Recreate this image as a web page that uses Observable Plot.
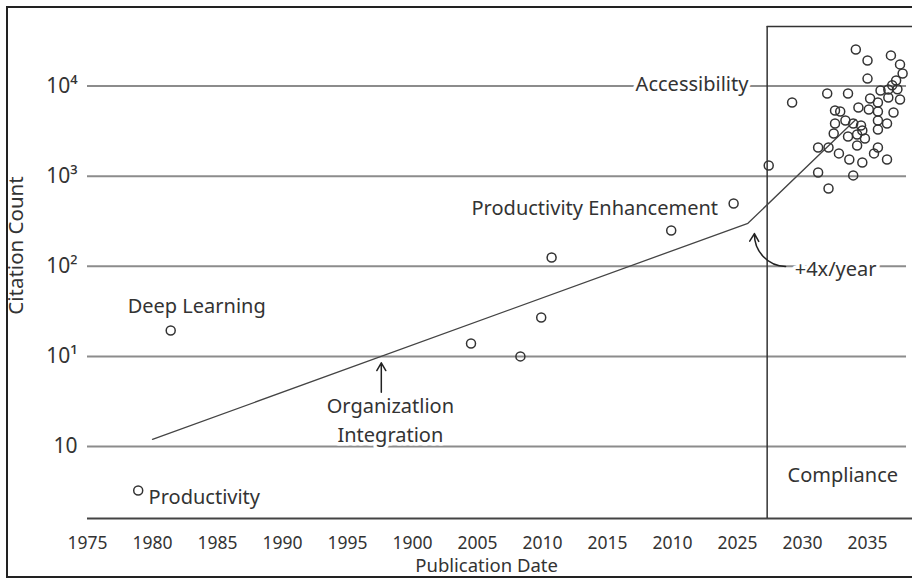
<!DOCTYPE html>
<html>
<head>
<meta charset="utf-8">
<script src="https://cdn.jsdelivr.net/npm/d3@7"></script>
<script src="https://cdn.jsdelivr.net/npm/@observablehq/plot@0.6"></script>
<style>
  html, body { margin: 0; padding: 0; background: #fff; overflow: hidden; }
  #frame { position: absolute; left: 6px; top: 6px; width: 1000px; height: 572px; box-sizing: border-box; border: 2px solid #222; }
  #chart { position: absolute; left: 0; top: 0; }
</style>
</head>
<body>
<div id="frame"></div>
<div id="chart"></div>
<script>
// ---- data ----
const xTickValues = [1975, 1980, 1985, 1990, 1995, 2000, 2005, 2010, 2015, 2020, 2025, 2030, 2035];
const xTickLabels = ["1975", "1980", "1985", "1990", "1995", "1900", "2005", "2010", "2015", "2010", "2025", "2030", "2035"];
const yTickValues = [1, 10, 100, 1000, 10000];
const yTickLabels = ["10", "10¹", "10²", "10³", "10⁴"];

const pubYears = [
  1978.9, 1981.4, 2004.5, 2008.3, 2009.9, 2010.7, 2019.9, 2024.7, 2027.4, 2029.2,
  2034.1, 2035.0, 2036.8, 2037.5, 2037.7, 2035.0, 2037.2, 2036.9, 2036.0, 2036.6,
  2037.3, 2031.9, 2033.5, 2035.2, 2035.8, 2036.6, 2037.5, 2032.5, 2032.9, 2034.3,
  2035.1, 2035.8, 2037.0, 2032.5, 2033.9, 2034.5, 2035.8, 2036.5, 2032.4, 2033.5,
  2034.2, 2034.8, 2035.8, 2031.2, 2032.0, 2034.2, 2032.8, 2033.6, 2034.6, 2035.5,
  2035.8, 2036.5, 2031.2, 2033.9, 2032.0, 2034.6, 2033.3
];
const citations = [
  0.325, 19.4, 13.9, 10.0, 27, 125, 250, 498, 1315, 6580,
  25500, 19200, 21900, 17400, 13800, 12100, 11500, 10200, 8930, 9170,
  9200, 8280, 8280, 7280, 6580, 7470, 7100, 5360, 5225, 5785,
  5500, 5225, 5090, 3845, 3845, 3655, 4150, 3845, 2980, 2760,
  2900, 2620, 3300, 2080, 2080, 2190, 1790, 1530, 1420, 1790,
  2080, 1530, 1100, 1020, 730, 3215, 4150
];

const trendYears = [1980.0, 2025.8, 2034.1];
const trendValues = [1.2, 300, 4260];

const complianceStart = [2027.28];

const labelTexts = ["Deep Learning", "Productivity", "Productivity Enhancement", "Accessibility", "Organizatlion\nIntegration", "+4x/year", "Compliance"];
const labelYears = [1983.4, 1979.7, 2023.5, 2021.5, 1998.3, 2029.4, 2033.1];
const labelValues = [38.6, 0.293, 473, 11250, 2.07, 99.5, 0.514];
const labelAnchors = ["middle", "start", "end", "middle", "middle", "start", "middle"];

const arrowYears1 = [1997.6, 2028.7];
const arrowValues1 = [4.0, 99.5];
const arrowYears2 = [1997.6, 2026.3];
const arrowValues2 = [8.5, 231];
const arrowBends = [0, 45];

// ---- build tables ----
const points = pubYears.map((x, i) => ({x, y: citations[i]}));
const trend = trendYears.map((x, i) => ({x, y: trendValues[i]}));
const labels = labelTexts.map((t, i) => ({t, x: labelYears[i], y: labelValues[i], a: labelAnchors[i]}));
const arrows = arrowYears1.map((x1, i) => ({x1, y1: arrowValues1[i], x2: arrowYears2[i], y2: arrowValues2[i], b: arrowBends[i]}));

const yMin = 0.159, yMax = 45800, xMin = 1975, xMax = 2038.46;
const ink = "#333";

const chart = Plot.plot({
  width: 912,
  height: 579,
  marginLeft: 87,
  marginRight: 0,
  marginTop: 26,
  marginBottom: 61,
  style: {fontFamily: "'Noto Sans', sans-serif", color: ink, background: "transparent"},
  x: {domain: [xMin, xMax]},
  y: {type: "log", domain: [yMin, yMax]},
  marks: [
    Plot.ruleY(yTickValues, {x1: xMin, x2: 2038.0, stroke: "#8c8c8c", strokeWidth: 2}),
    Plot.ruleY([yMin], {x1: xMin, x2: xMax, stroke: "#444", strokeWidth: 2}),
    Plot.ruleX(complianceStart, {y1: yMin, y2: yMax, stroke: ink, strokeWidth: 1.5}),
    Plot.ruleY([yMax], {x1: complianceStart[0], x2: xMax, stroke: ink, strokeWidth: 1.5}),
    Plot.line(trend, {x: "x", y: "y", stroke: "#444", strokeWidth: 1.3}),
    Plot.dot(points, {x: "x", y: "y", r: 4.5, stroke: ink, strokeWidth: 1.5, fill: "none"}),
    ...["start", "middle", "end"].map(a =>
      Plot.text(labels.filter(d => d.a === a), {
        x: "x", y: "y", text: "t", textAnchor: a, fontSize: 20, lineHeight: 1.45,
        fill: ink, stroke: "white", strokeWidth: 7
      })
    ),
    ...arrows.map(d => Plot.arrow([d], {x1: "x1", y1: "y1", x2: "x2", y2: "y2", bend: d.b, headLength: 9, stroke: "#222", strokeWidth: 1.5})),
    Plot.axisX({ticks: xTickValues, tickFormat: d => xTickLabels[xTickValues.indexOf(d)], tickSize: 0, tickPadding: 18, fontSize: 17.5, label: null}),
    Plot.axisY({ticks: yTickValues, tickFormat: d => yTickLabels[yTickValues.indexOf(d)], tickSize: 0, tickPadding: 10, fontSize: 21, label: null}),
    Plot.text(["Publication Date"], {x: [2005.7], frameAnchor: "bottom", lineAnchor: "middle", dy: 48, fontSize: 18.5, fill: ink}),
    Plot.text(["Citation Count"], {y: [170], frameAnchor: "left", textAnchor: "middle", lineAnchor: "middle", dx: -71, rotate: -90, fontSize: 20.5, fill: ink})
  ]
});
document.getElementById("chart").appendChild(chart);
</script>
</body>
</html>
